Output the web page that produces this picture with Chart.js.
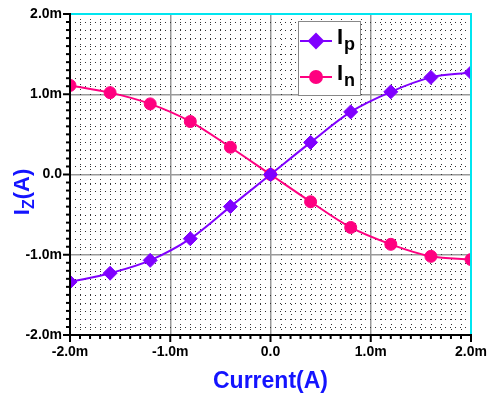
<!DOCTYPE html>
<html>
<head>
<meta charset="utf-8">
<script src="https://cdn.jsdelivr.net/npm/chart.js@4.4.1/dist/chart.umd.min.js"></script>
<style>
  body { margin: 0; background: #fff; }
  #wrap { width: 490px; height: 394px; }
</style>
</head>
<body>
<div id="wrap"><canvas id="myChart" width="490" height="394"></canvas></div>
<script>
// currents in mA, Iz in mA
const current = [-2.0, -1.6, -1.2, -0.8, -0.4, 0.0, 0.4, 0.8, 1.2, 1.6, 2.0];
const ipValues = [-1.34, -1.23, -1.07, -0.80, -0.40, 0.0, 0.40, 0.78, 1.03, 1.21, 1.27];
const inValues = [1.11, 1.02, 0.88, 0.66, 0.34, 0.0, -0.34, -0.66, -0.87, -1.02, -1.06];
const xTickLabels = ["-2.0m", "-1.0m", "0.0", "1.0m", "2.0m"];
const yTickLabels = ["-2.0m", "-1.0m", "0.0", "1.0m", "2.0m"];

const purple = "rgb(128, 0, 255)";
const pink = "rgb(255, 0, 128)";
const blue = "rgb(20, 20, 255)";
const font = "'Liberation Sans', Arial, sans-serif";

function isMajor(v) {
  return Math.round(v * 10) % 10 === 0;
}
function majorLabel(labels, v) {
  return isMajor(v) ? labels[Math.round(v) + 2] : "";
}

// dotted minor grid, axis frame, tick marks, axis titles and legend
const decor = {
  id: "decor",
  beforeDatasetsDraw(chart) {
    const { ctx, chartArea: a, scales: { x, y } } = chart;
    ctx.save();
    ctx.strokeStyle = "#333";
    ctx.lineWidth = 1;
    ctx.setLineDash([1, 4]);
    for (let i = -20; i <= 20; i++) {
      if (i % 10 === 0) continue;
      const px = Math.round(x.getPixelForValue(i / 10)) + 0.5;
      ctx.beginPath();
      ctx.moveTo(px, a.top);
      ctx.lineTo(px, a.bottom);
      ctx.stroke();
      const py = Math.round(y.getPixelForValue(i / 10)) + 0.5;
      ctx.beginPath();
      ctx.moveTo(a.left, py);
      ctx.lineTo(a.right, py);
      ctx.stroke();
    }
    ctx.restore();
  },
  afterDatasetsDraw(chart) {
    const { ctx, chartArea: a, scales: { x, y } } = chart;
    ctx.save();
    // top and right frame
    ctx.strokeStyle = "#00e5f0";
    ctx.lineWidth = 2;
    ctx.beginPath();
    ctx.moveTo(a.left, a.top);
    ctx.lineTo(a.right, a.top);
    ctx.lineTo(a.right, a.bottom);
    ctx.stroke();
    // left and bottom axes with ticks
    ctx.strokeStyle = "#000";
    ctx.beginPath();
    ctx.moveTo(a.left, a.top - 1);
    ctx.lineTo(a.left, a.bottom);
    ctx.lineTo(a.right + 1, a.bottom);
    ctx.stroke();
    for (let i = -20; i <= 20; i++) {
      const len = i % 10 === 0 ? 7 : 4;
      const px = x.getPixelForValue(i / 10);
      ctx.beginPath();
      ctx.moveTo(px, a.bottom);
      ctx.lineTo(px, a.bottom + len);
      ctx.stroke();
      const py = y.getPixelForValue(i / 10);
      ctx.beginPath();
      ctx.moveTo(a.left, py);
      ctx.lineTo(a.left - len, py);
      ctx.stroke();
    }
    ctx.restore();
  },
  afterDraw(chart) {
    const { ctx, chartArea: a } = chart;
    ctx.save();
    ctx.fillStyle = blue;
    ctx.textBaseline = "alphabetic";

    // x title
    ctx.font = "bold 23px " + font;
    ctx.textAlign = "center";
    ctx.fillText("Current(A)", (a.left + a.right) / 2, 388);

    // y title, rotated, with subscript
    ctx.translate(29, 192);
    ctx.rotate(-Math.PI / 2);
    ctx.textAlign = "left";
    const big = "bold 22px " + font;
    const small = "bold 16px " + font;
    ctx.font = big;
    const wI = ctx.measureText("I").width;
    const wA = ctx.measureText("(A)").width;
    ctx.font = small;
    const wZ = ctx.measureText("Z").width;
    let sx = -(wI + wZ + wA) / 2;
    ctx.font = big;
    ctx.fillText("I", sx, 0);
    ctx.font = small;
    ctx.fillText("Z", sx + wI, 5);
    ctx.font = big;
    ctx.fillText("(A)", sx + wI + wZ, 0);
    ctx.setTransform(1, 0, 0, 1, 0, 0);

    // legend
    const lx = 298, ly = 21, lw = 62, lh = 74;
    ctx.fillStyle = "#fff";
    ctx.fillRect(lx, ly, lw, lh);
    ctx.strokeStyle = "#888";
    ctx.lineWidth = 1;
    ctx.strokeRect(lx + 0.5, ly + 0.5, lw, lh);
    const items = [
      { sub: "p", color: purple, style: "rectRot", r: 7, y: 41 },
      { sub: "n", color: pink, style: "circle", r: 6, y: 77 }
    ];
    items.forEach((it) => {
      ctx.strokeStyle = it.color;
      ctx.fillStyle = it.color;
      ctx.lineWidth = 2;
      ctx.beginPath();
      ctx.moveTo(lx + 2, it.y);
      ctx.lineTo(lx + 34, it.y);
      ctx.stroke();
      Chart.helpers.drawPoint(ctx, { pointStyle: it.style, radius: it.r, borderWidth: 1 }, lx + 18, it.y);
      ctx.fillStyle = "#000";
      ctx.font = "bold 22px " + font;
      ctx.fillText("I", lx + 39, it.y + 3);
      ctx.font = "bold 18px " + font;
      ctx.fillText(it.sub, lx + 46, it.y + 9);
    });
    ctx.restore();
  }
};

const data = {
  datasets: [
    {
      label: "Ip",
      data: current.map((c, i) => ({ x: c, y: ipValues[i] })),
      borderColor: purple,
      backgroundColor: purple,
      borderWidth: 2,
      pointStyle: "rectRot",
      pointRadius: 7,
      pointBorderWidth: 1,
      cubicInterpolationMode: "monotone",
      clip: 0
    },
    {
      label: "In",
      data: current.map((c, i) => ({ x: c, y: inValues[i] })),
      borderColor: pink,
      backgroundColor: pink,
      borderWidth: 2,
      pointStyle: "circle",
      pointRadius: 6,
      pointBorderWidth: 1,
      cubicInterpolationMode: "monotone",
      clip: 0
    }
  ]
};

const gridColor = (ctx) => (isMajor(ctx.tick.value) ? "#999" : "rgba(0,0,0,0)");

const config = {
  type: "line",
  data: data,
  options: {
    responsive: false,
    animation: false,
    layout: { padding: { top: 14, right: 19, left: 0, bottom: 0 } },
    plugins: { legend: { display: false }, tooltip: { enabled: false } },
    scales: {
      x: {
        type: "linear",
        min: -2,
        max: 2,
        afterFit: (s) => { s.height = 59; s.paddingLeft = 0; s.paddingRight = 0; },
        border: { display: false },
        grid: { color: gridColor, lineWidth: 1.5, drawTicks: false },
        ticks: {
          stepSize: 0.1,
          autoSkip: false,
          maxRotation: 0,
          padding: 9,
          color: "#000",
          font: { family: font, size: 14, weight: "bold" },
          callback: (v) => majorLabel(xTickLabels, v)
        }
      },
      y: {
        type: "linear",
        min: -2,
        max: 2,
        afterFit: (s) => { s.width = 70; s.paddingTop = 0; s.paddingBottom = 0; },
        border: { display: false },
        grid: { color: gridColor, lineWidth: 1.5, drawTicks: false },
        ticks: {
          stepSize: 0.1,
          autoSkip: false,
          padding: 8,
          color: "#000",
          font: { family: font, size: 14, weight: "bold" },
          callback: (v) => majorLabel(yTickLabels, v)
        }
      }
    }
  },
  plugins: [decor]
};

const myChart = new Chart(document.getElementById("myChart"), config);
</script>
</body>
</html>
